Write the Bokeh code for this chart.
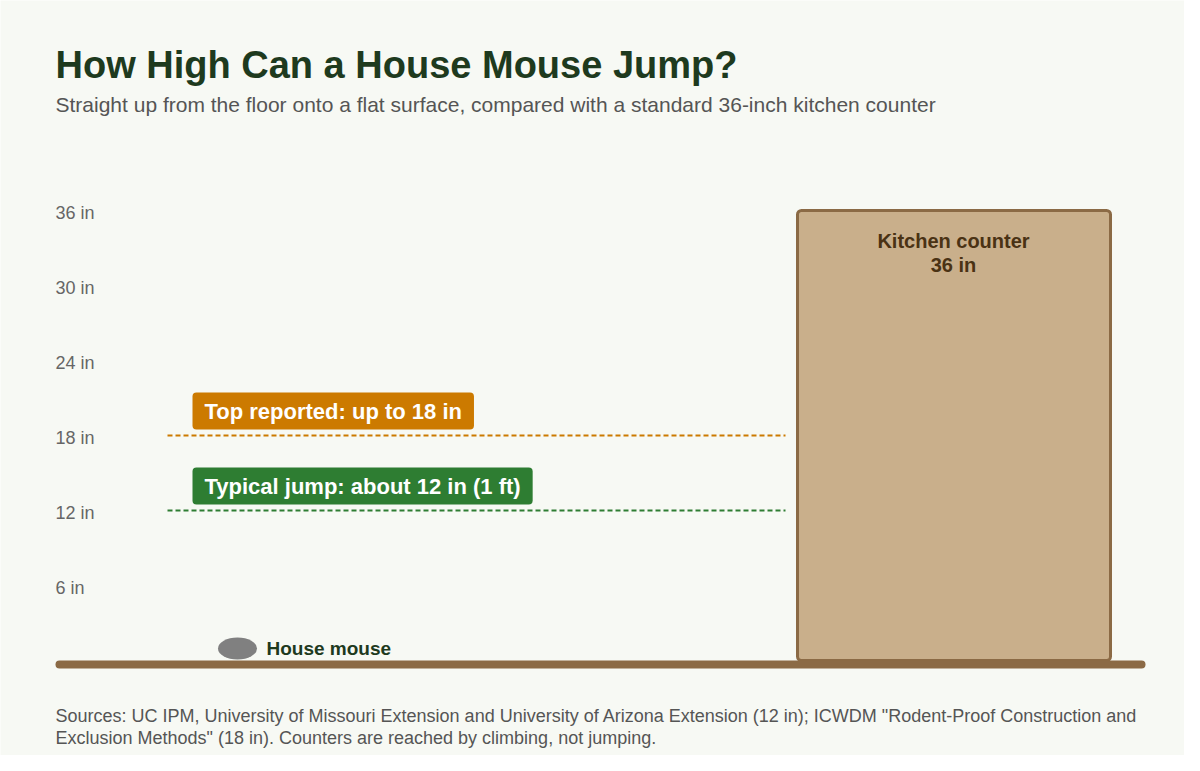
from bokeh.plotting import figure
from bokeh.models import Range1d, Label
from bokeh.core.properties import value
from bokeh.embed import file_html
from bokeh.resources import INLINE

# data
jump_heights = [18, 12]
jump_labels = ["Top reported: up to 18 in", "Typical jump: about 12 in (1 ft)"]
jump_colors = ["#cc7a00", "#2e7d32"]
counter_height = 36
counter_label = "Kitchen counter\n36 in"
mouse_label = "House mouse"
y_ticks = [6, 12, 18, 24, 30, 36]
tick_labels = [f"{t} in" for t in y_ticks]

title = "How High Can a House Mouse Jump?"
subtitle = "Straight up from the floor onto a flat surface, compared with a standard 36-inch kitchen counter"
source_lines = [
    'Sources: UC IPM, University of Missouri Extension and University of Arizona Extension (12 in); ICWDM "Rodent-Proof Construction and',
    'Exclusion Methods" (18 in). Counters are reached by climbing, not jumping.',
]

# layout
W, H = 1184, 755
PX_PER_IN = 12.5
FLOOR_PX = 660  # from top of canvas
BG = "#f7f9f4"
FONT = "Liberation Sans"

p = figure(
    width=W, height=H,
    x_range=Range1d(0, W),
    y_range=Range1d(-(H - FLOOR_PX) / PX_PER_IN, FLOOR_PX / PX_PER_IN),
    x_axis_location=None, y_axis_location=None,
    toolbar_location=None, output_backend="svg",
    min_border=0, outline_line_color=None,
    background_fill_color=BG, border_fill_color=BG,
)
p.grid.visible = False

# tick labels
p.text(x=[55] * len(y_ticks), y=[t - 2 / PX_PER_IN for t in y_ticks], text=tick_labels,
       text_font=value(FONT), text_font_size="18px", text_color="#666666",
       text_baseline="middle", text_align="left")

# counter
p.quad(left=[797], right=[1110], bottom=[0], top=[counter_height],
       fill_color="#c9af8b", line_color="#8b6a45", line_width=3,
       border_radius=4)
p.text(x=[953], y=[counter_height - 19 / PX_PER_IN], text=[counter_label],
       text_font=value(FONT), text_font_style="bold", text_font_size="20px",
       text_color="#4a3214", text_align="center", text_baseline="top",
       text_line_height=1.1)

# jump reference lines + labels
for h, lab, col in zip(jump_heights, jump_labels, jump_colors):
    p.segment(x0=[167], x1=[785], y0=[h], y1=[h], line_color=col,
              line_width=2, line_dash="5 3")
    p.add_layout(Label(
        x=192, y=h, y_offset=6, text=lab,
        text_font=FONT, text_font_style="bold", text_font_size="22px",
        text_color="white", text_align="left", text_baseline="bottom",
        background_fill_color=col, border_radius=4,
        padding=dict(left=12, right=12, top=6, bottom=6),
    ))

# floor
p.segment(x0=[59], x1=[1141], y0=[-4 / PX_PER_IN], y1=[-4 / PX_PER_IN],
          line_color="#8b6a45", line_width=8, line_cap="round")

# mouse
p.ellipse(x=[237], y=[0.96], width=39, height=22 / PX_PER_IN,
          fill_color="#808080", line_color=None)
p.text(x=[266], y=[0.96], text=[mouse_label],
       text_font=value(FONT), text_font_style="bold", text_font_size="19px",
       text_color="#1e3a1e", text_baseline="middle", text_align="left")

# titles and sources
p.add_layout(Label(x=55, y=H - 64, x_units="screen", y_units="screen",
                   text=title, text_font=FONT, text_font_style="bold",
                   text_font_size="38px", text_color="#1e3a1e",
                   text_baseline="middle"))
p.add_layout(Label(x=55, y=H - 104, x_units="screen", y_units="screen",
                   text=subtitle, text_font=FONT, text_font_size="21px",
                   text_color="#555555", text_baseline="middle"))
for i, line in enumerate(source_lines):
    p.add_layout(Label(x=55, y=H - 715 - 22 * i, x_units="screen", y_units="screen",
                       text=line, text_font=FONT, text_font_size="18px",
                       text_color="#555555", text_baseline="middle"))

open("out.html", "w").write(file_html(p, INLINE))
